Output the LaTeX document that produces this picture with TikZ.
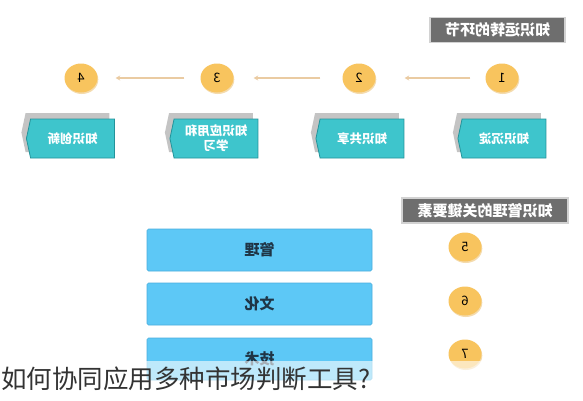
\documentclass[tikz,border=0pt]{standalone}
\usepackage{fontspec}
\setmainfont{Noto Sans CJK SC}
\usetikzlibrary{shapes.geometric,shapes.symbols,shadows,arrows.meta}
\definecolor{teal1}{HTML}{3EC5CC}
\definecolor{teal2}{HTML}{23939A}
\definecolor{shade1}{HTML}{C4C4C4}
\definecolor{gold1}{HTML}{F8C45E}
\definecolor{gold2}{HTML}{E8B04A}
\definecolor{blue1}{HTML}{5DC8F6}
\definecolor{blue2}{HTML}{4AAEDD}
\definecolor{gray1}{HTML}{6E6E6E}
\definecolor{gray2}{HTML}{D2D2D2}
\definecolor{arrowtan}{HTML}{EACBA2}
\definecolor{bartext}{HTML}{1F3546}
\definecolor{captext}{HTML}{333333}
\tikzset{
  titlebox/.style={rectangle, fill=gray1, draw=gray2, line width=1.5pt, text=white,
    minimum height=25pt, inner sep=0pt, font=\fontsize{15}{17}\selectfont\bfseries},
  numdot/.style={ellipse, fill=gold1, minimum width=33pt, minimum height=29pt, inner sep=0pt,
    font=\fontsize{13}{15}\selectfont,
    general shadow={shadow xshift=0.8pt, shadow yshift=-1.5pt, fill=gold2, opacity=0.45}},
  tagbox/.style={signal, signal to=west, signal pointer angle=156, fill=teal1, draw=teal2,
    line width=0.8pt, minimum width=88pt, minimum height=39pt, inner sep=1pt, text=white,
    align=center, font=\fontsize{12.5}{15}\selectfont\bfseries,
    general shadow={shadow xshift=-5pt, shadow yshift=6pt, fill=shade1}},
  barbox/.style={rectangle, rounded corners=1.5pt, fill=blue1, draw=blue2, line width=0.6pt,
    minimum width=225pt, minimum height=42pt, text=bartext,
    font=\fontsize{15}{17}\selectfont\bfseries},
  flowarrow/.style={draw=arrowtan, line width=1.6pt, -{Stealth[length=4.5pt,width=5pt]}},
}
\newcommand{\mir}[1]{\reflectbox{#1}}
\begin{document}
\begin{tikzpicture}[x=1pt,y=-1pt]
\useasboundingbox (0,0) rectangle (583,400);
\fill[white] (0,0) rectangle (583,400);
% titles
\node[titlebox, minimum width=135pt] (t1) at (497.5,30) {\mir{知识运转的环节}};
\node[titlebox, minimum width=166pt] (t2) at (485,210.5) {\mir{知识管理的关键要素}};
% top circles
\node[numdot] (c1) at (502,78) {\mir{1}};
\node[numdot] (c2) at (359,78) {\mir{2}};
\node[numdot] (c3) at (217,78) {\mir{3}};
\node[numdot] (c4) at (81,78) {\mir{4}};
\draw[flowarrow, shorten <=15pt, shorten >=29pt] (c1) -- (c2);
\draw[flowarrow, shorten <=22pt, shorten >=20pt] (c2) -- (c3);
\draw[flowarrow, shorten <=16pt, shorten >=18pt] (c3) -- (c4);
% tag boxes
\node[tagbox] (b1) at (504,138.5) {\mir{知识沉淀}};
\node[tagbox] (b2) at (362,138.5) {\mir{知识共享}};
\node[tagbox] (b3) at (216,138.5) {\mir{知识应用和}\\\mir{学习}};
\node[tagbox] (b4) at (72.5,138.5) {\mir{知识创新}};
% bars
\node[barbox] (r1) at (259.5,250) {\mir{管理}};
\node[barbox] (r2) at (259.5,304) {\mir{文化}};
\node[barbox] (r3) at (259.5,359) {\mir{技术}};
\node[numdot] (c5) at (465,247) {\mir{5}};
\node[numdot] (c6) at (465,301) {\mir{6}};
\node[numdot] (c7) at (465,354) {\mir{7}};
% caption band
\fill[white, opacity=0.6] (0,361) rectangle (583,400);
\node[anchor=west, inner sep=0pt, text=captext, font=\fontsize{25.5}{28}\selectfont] (cap) at (1,379) {如何协同应用多种市场判断工具?};
\end{tikzpicture}
\end{document}
